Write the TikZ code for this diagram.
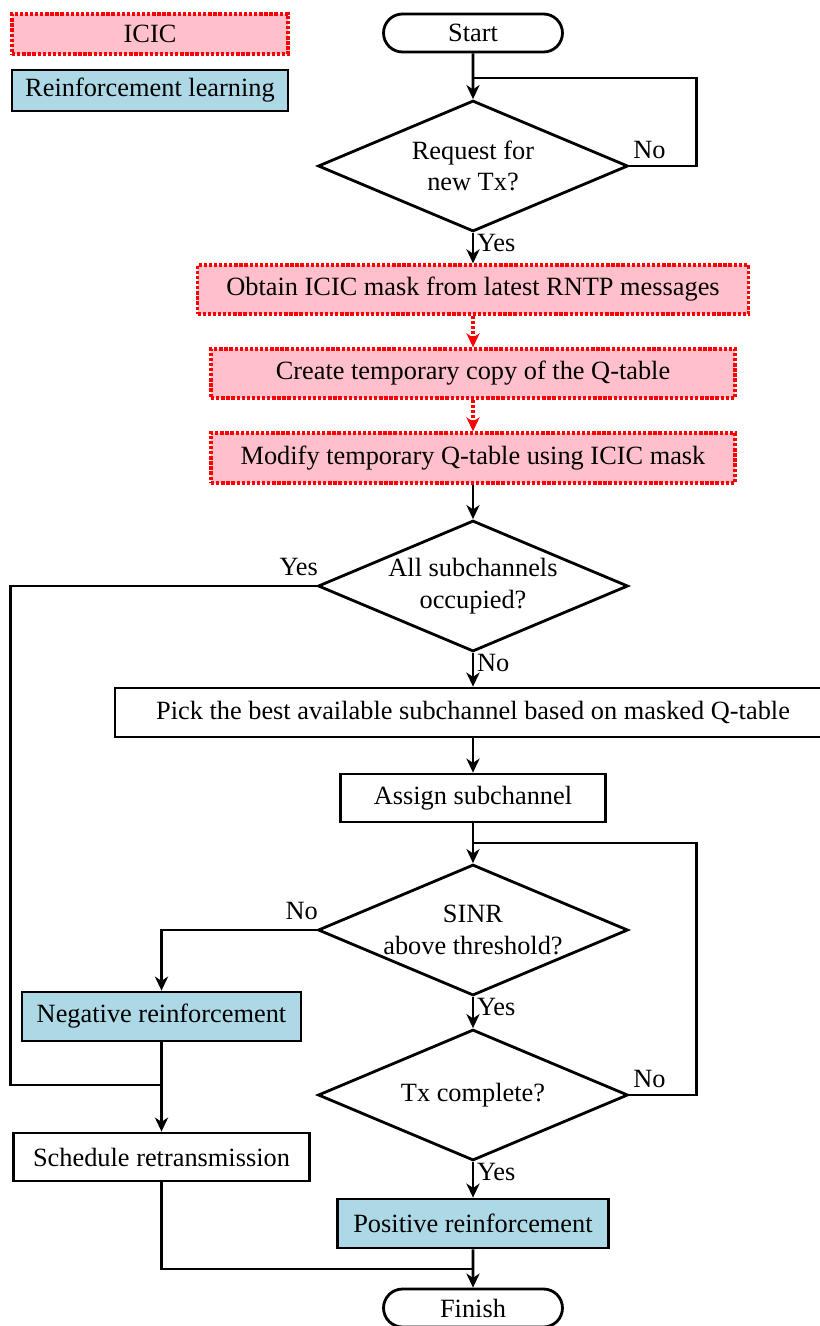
\documentclass[tikz,border=0pt]{standalone}
\usepackage{fontspec}
\setmainfont{Liberation Serif}
\usepackage{tikz}
\usetikzlibrary{positioning,shapes,arrows.meta}

\definecolor{rlblue}{HTML}{ADD8E6}
\definecolor{icicpink}{HTML}{FFC0CB}

\tikzset{
  every node/.style={font=\fontsize{15}{18}\selectfont},
  block/.style={draw, line width=1.6pt, rectangle, minimum height=0.98cm, inner sep=0pt},
  redline/.style={draw=red, line width=1.9pt, dash pattern=on 1.9pt off 1pt},
  icic/.style={block, fill=icicpink, redline},
  rl/.style={block, fill=rlblue},
  decision/.style={draw, line width=1.6pt, diamond, aspect=2.35, minimum width=6.2cm,
    minimum height=2.62cm, inner sep=0pt, align=center},
  terminal/.style={draw, line width=1.6pt, rounded rectangle, minimum width=3.58cm,
    minimum height=0.76cm, inner sep=0pt},
  line/.style={line width=1.6pt},
  flow/.style={line, -{Stealth[length=8pt,width=7.5pt,inset=2.5pt]}},
  icicflow/.style={flow, redline},
  lbl/.style={inner sep=1.5pt},
  leftlbl/.style={lbl, anchor=south east, xshift=3pt, yshift=3.5pt},
  rightlbl/.style={lbl, anchor=south west, yshift=2pt},
  downlbl/.style={lbl, anchor=north west, yshift=1.5pt}
}

\begin{document}
\begin{tikzpicture}[x=0.02cm, y=-0.02cm]
  \useasboundingbox (0,0) rectangle (820,1326);

  % legend
  \node[icic, minimum width=5.52cm, minimum height=0.8cm] (legicic) at (150,34) {ICIC};
  \node[rl, minimum width=5.52cm, minimum height=0.82cm] (legrl) at (150,90.5) {Reinforcement learning};

  % main column
  \node[terminal] (start) at (473,33) {Start};
  \node[decision] (newtx) at (473,166) {Request for\\new Tx?};
  \node[icic, minimum width=11.02cm] (mask) at (473,289.5) {Obtain ICIC mask from latest RNTP messages};
  \node[icic, minimum width=10.48cm] (copy) at (473,373.5) {Create temporary copy of the Q-table};
  \node[icic, minimum width=10.48cm, minimum height=1cm] (modify) at (473,458) {Modify temporary Q-table using ICIC mask};
  \node[decision] (occupied) at (473,586) {All subchannels\\occupied?};
  \node[block, minimum width=14.32cm] (pick) at (473,712.5) {Pick the best available subchannel based on masked Q-table};
  \node[block, minimum width=5.3cm, minimum height=0.96cm] (assign) at (473,798) {Assign subchannel};
  \node[decision] (sinr) at (473,930) {SINR\\above threshold?};
  \node[decision] (done) at (473,1095) {Tx complete?};
  \node[rl, minimum width=5.42cm] (pos) at (473,1223.5) {Positive reinforcement};
  \node[terminal] (finish) at (473,1308) {Finish};

  % failure branch
  \node[rl, minimum width=5.58cm] (neg) at (161.5,1016.5) {Negative reinforcement};
  \node[block, minimum width=5.92cm, minimum height=0.96cm] (resched) at (161.5,1157) {Schedule retransmission};

  \coordinate (txloop) at (473,78);
  \coordinate (sinrloop) at (473,843);
  \coordinate (retx) at (161.5,1085);
  \coordinate (merge) at (473,1269);

  \draw[flow] (start) -- (newtx);
  \draw[line] (newtx.east) node[rightlbl] {No} -- ++(67,0) |- (txloop);
  \draw[flow] (newtx.south) node[downlbl] {Yes} -- (mask);
  \draw[icicflow] (mask) -- (copy);
  \draw[icicflow] (copy) -- (modify);
  \draw[flow] (modify) -- (occupied);
  \draw[line] (occupied.west) node[leftlbl] {Yes} -- ++(-306,0) |- (retx);
  \draw[flow] (occupied.south) node[downlbl] {No} -- (pick);
  \draw[flow] (pick) -- (assign);
  \draw[flow] (assign) -- (sinr);
  \draw[flow] (sinr.west) node[leftlbl] {No} -| (neg.north);
  \draw[flow] (neg) -- (resched);
  \draw[flow] (sinr.south) node[downlbl] {Yes} -- (done);
  \draw[line] (done.east) node[rightlbl] {No} -- ++(67,0) |- (sinrloop);
  \draw[flow] (done.south) node[downlbl] {Yes} -- (pos);
  \draw[line] (resched.south) |- (merge);
  \draw[flow] (pos) -- (finish);
\end{tikzpicture}
\end{document}
